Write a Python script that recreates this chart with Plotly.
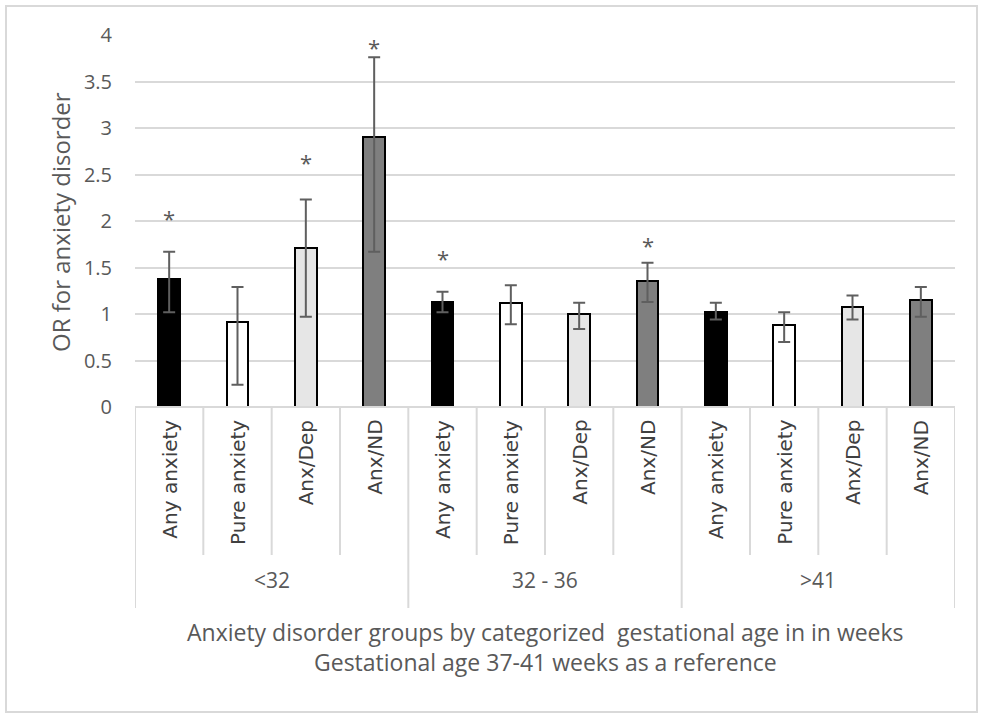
import plotly.graph_objects as go

# ---------------- data ----------------
groups = ["<32", "32 - 36", ">41"]
subcats = ["Any anxiety", "Pure anxiety", "Anx/Dep", "Anx/ND"]
fills = ["#000000", "#ffffff", "#e6e6e6", "#7f7f7f"]

or_values = [1.38, 0.91, 1.71, 2.90,
             1.13, 1.12, 1.00, 1.35,
             1.02, 0.88, 1.07, 1.15]
ci_upper = [1.67, 1.29, 2.23, 3.76,
            1.24, 1.31, 1.12, 1.55,
            1.12, 1.02, 1.20, 1.29]
ci_lower = [1.02, 0.24, 0.97, 1.67,
            1.02, 0.89, 0.84, 1.13,
            0.94, 0.70, 0.94, 0.97]
significant = [True, False, True, True,
               True, False, False, True,
               False, False, False, False]
star_y = [2.09, None, 2.69, 3.92,
          1.66, None, None, 1.80,
          None, None, None, None]

y_ticks = [0, 0.5, 1, 1.5, 2, 2.5, 3, 3.5, 4]
y_tick_text = ["0", "0.5", "1", "1.5", "2", "2.5", "3", "3.5", "4"]

x_title_line1 = "Anxiety disorder groups by categorized  gestational age in in weeks"
x_title_line2 = "Gestational age 37-41 weeks as a reference"
y_title = "OR for anxiety disorder"

# ---------------- layout constants (pixels) ----------------
W, H = 982, 718
ML, MR, MT, MB = 135, 27, 35, 311
PW = W - ML - MR
PH = H - MT - MB


def py(px_y):
    """pixel y (from top) -> paper y"""
    return (H - MB - px_y) / PH


def px(px_x):
    return (px_x - ML) / PW


n = len(or_values)
xs = list(range(n))
colors = [fills[i % 4] for i in range(n)]

fig = go.Figure()
fig.add_trace(go.Bar(
    x=xs, y=or_values, width=0.32,
    marker=dict(color=colors, line=dict(color="#000000", width=2)),
    error_y=dict(type="data", symmetric=False,
                 array=[u - v for u, v in zip(ci_upper, or_values)],
                 arrayminus=[v - l for v, l in zip(or_values, ci_lower)],
                 color="#5f5f5f", thickness=2, width=6),
    showlegend=False, hoverinfo="skip",
))

calibri = "Open Sans, sans-serif"
txt_col = "#595959"

annotations = []
# significance stars
for i in range(n):
    if significant[i]:
        annotations.append(dict(x=i, y=star_y[i], xref="x", yref="y", text="*",
                                showarrow=False, yanchor="middle", yshift=-5,
                                font=dict(family=calibri, size=22, color=txt_col)))
# subcategory labels (rotated)
for i in range(n):
    annotations.append(dict(x=i, y=py(418), xref="x", yref="paper",
                            text=subcats[i % 4], textangle=-90, showarrow=False,
                            yanchor="top", xanchor="center",
                            font=dict(family="DejaVu Sans", size=20, color="#404040")))
# group labels
for g, name in enumerate(groups):
    annotations.append(dict(x=g * 4 + 1.5, y=py(580), xref="x", yref="paper",
                            text=name, showarrow=False, yanchor="middle",
                            font=dict(family=calibri, size=21, color=txt_col)))
# x titles
annotations.append(dict(x=0.5, y=py(632), xref="paper", yref="paper", text=x_title_line1,
                        showarrow=False, yanchor="middle",
                        font=dict(family=calibri, size=23, color=txt_col)))
annotations.append(dict(x=0.5, y=py(662), xref="paper", yref="paper", text=x_title_line2,
                        showarrow=False, yanchor="middle",
                        font=dict(family=calibri, size=23, color=txt_col)))
# y title
annotations.append(dict(x=px(60), y=py(222), xref="paper", yref="paper", text=y_title,
                        textangle=-90, showarrow=False, xanchor="center", yanchor="middle",
                        font=dict(family="Open Sans", size=24, color=txt_col)))

shapes = []
grid_col = "#d9d9d9"
# axis baseline
shapes.append(dict(type="line", xref="x", yref="paper", x0=-0.5, x1=n - 0.5, y0=0, y1=0,
                   line=dict(color=grid_col, width=2)))
for k in range(n + 1):
    xb = k - 0.5
    y_end = py(608) if k % 4 == 0 else py(555)
    shapes.append(dict(type="line", xref="x", yref="paper", x0=xb, x1=xb, y0=0, y1=y_end,
                       line=dict(color=grid_col, width=2)))
# outer border
shapes.append(dict(type="rect", xref="paper", yref="paper",
                   x0=px(6), x1=px(977), y0=py(6), y1=py(712),
                   line=dict(color="#d9d9d9", width=2), layer="below"))

fig.update_layout(
    width=W, height=H,
    margin=dict(l=ML, r=MR, t=MT, b=MB),
    paper_bgcolor="white", plot_bgcolor="white",
    xaxis=dict(range=[-0.5, n - 0.5], showticklabels=False, showgrid=False,
               zeroline=False, showline=False, ticks=""),
    yaxis=dict(range=[0, 4], tickvals=y_ticks, ticktext=y_tick_text,
               showgrid=True, gridcolor=grid_col, gridwidth=2, zeroline=False,
               showline=False, ticks="", ticklabelstandoff=22,
               tickfont=dict(family=calibri, size=20, color=txt_col)),
    annotations=annotations, shapes=shapes,
    bargap=0,
)

fig.write_html("out.html")
